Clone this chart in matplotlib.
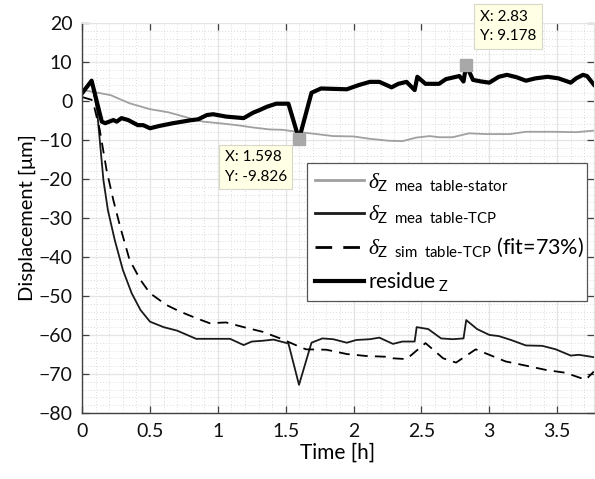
import matplotlib
matplotlib.use("Agg")
import matplotlib.pyplot as plt
from matplotlib.ticker import MultipleLocator

plt.rcParams['font.family'] = ['Lato', 'DejaVu Sans']
plt.rcParams['mathtext.fontset'] = 'custom'
plt.rcParams['mathtext.rm'] = 'Lato'
plt.rcParams['mathtext.it'] = 'Liberation Serif:italic'

# time [h] / displacement [um]
stator_t = [0, 0.07, 0.21, 0.35, 0.5, 0.635, 0.77, 0.89, 1.01, 1.14, 1.26, 1.38, 1.48, 1.58,
            1.73, 1.85, 2.0, 2.12, 2.26, 2.36, 2.46, 2.56, 2.63, 2.73, 2.85, 2.98, 3.15, 3.27,
            3.47, 3.64, 3.77]
stator_v = [2.8, 2.4, 1.5, -0.6, -2.1, -2.9, -4.2, -5.3, -5.7, -6.2, -6.8, -7.3, -7.4, -7.9,
            -8.5, -9.0, -9.1, -9.7, -10.2, -10.3, -9.4, -9.0, -9.3, -9.3, -8.3, -8.5, -8.5, -7.9,
            -7.9, -8.0, -7.6]

tcp_t = [0, 0.07, 0.11, 0.13, 0.157, 0.19, 0.24, 0.30, 0.365, 0.43, 0.50, 0.60, 0.70, 0.84,
         0.965, 1.09, 1.19, 1.25, 1.33, 1.41, 1.52, 1.598, 1.69, 1.77, 1.85, 1.95, 2.02, 2.12,
         2.19, 2.29, 2.36, 2.45, 2.465, 2.55, 2.645, 2.73, 2.81, 2.83, 2.91, 3.0, 3.07, 3.16,
         3.27, 3.39, 3.49, 3.60, 3.66, 3.77]
tcp_v = [2.5, 5.0, -2.3, -10, -20.3, -28, -35.6, -43.3, -49.3, -53.6, -56.6, -58, -58.9, -61,
         -61, -61, -62.6, -61.7, -61.5, -61.2, -62.2, -72.8, -62, -60.9, -61.1, -62, -61.3, -61.1,
         -60.7, -62.3, -61.7, -61.7, -58, -58.5, -60.9, -61.1, -60.9, -56.2, -58.5, -60, -60.3, -61.3,
         -62.7, -62.8, -63.7, -65.3, -65.1, -65.7]

sim_t = [0, 0.07, 0.083, 0.13, 0.18, 0.23, 0.28, 0.35, 0.43, 0.50, 0.62, 0.72, 0.84, 0.94,
         1.06, 1.19, 1.33, 1.46, 1.60, 1.65, 1.80, 1.95, 2.09, 2.24, 2.29, 2.39, 2.53, 2.66,
         2.755, 2.90, 3.0, 3.12, 3.245, 3.42, 3.56, 3.71, 3.77]
sim_v = [1.0, 0.3, -0.6, -7.4, -17.7, -25.4, -32.2, -40.8, -45.9, -49.3, -52.3, -54, -55.7, -57,
         -56.8, -58, -59.2, -60.9, -63, -63.7, -63.8, -64.9, -65.4, -65.6, -66, -66.2, -62.1, -66,
         -67.1, -63.7, -65.1, -66.8, -67.7, -69, -69.7, -71.5, -69.4]

res_t = [0, 0.07, 0.145, 0.17, 0.23, 0.255, 0.29, 0.34, 0.41, 0.45, 0.50, 0.57, 0.67, 0.79,
         0.855, 0.92, 0.965, 1.06, 1.19, 1.26, 1.31, 1.36, 1.43, 1.52, 1.598, 1.69, 1.76, 1.95,
         2.04, 2.12, 2.19, 2.28, 2.33, 2.39, 2.45, 2.47, 2.53, 2.63, 2.68, 2.78, 2.81, 2.83,
         2.88, 2.94, 3.0, 3.07, 3.13, 3.20, 3.27, 3.34, 3.43, 3.51, 3.60, 3.64, 3.69, 3.72, 3.77]
res_v = [2.0, 5.2, -5.3, -5.7, -4.9, -5.3, -4.4, -4.9, -6.2, -6.2, -7.0, -6.4, -5.7, -5.0,
         -4.7, -3.6, -3.4, -4.0, -4.4, -3.0, -2.3, -1.5, -0.7, -0.7, -9.826, 2.1, 3.2, 3.0,
         4.1, 4.9, 4.9, 3.5, 4.4, 4.9, 2.8, 6.2, 4.4, 4.4, 5.6, 6.4, 5.0, 9.178,
         5.4, 5.0, 4.7, 6.2, 6.7, 6.1, 5.2, 5.8, 6.2, 5.8, 4.7, 5.8, 6.7, 6.4, 4.2]

tips_t = [1.598, 2.83]
tips_v = [-9.826, 9.178]

fig = plt.figure(figsize=(5.95, 4.79), dpi=100)
ax = fig.add_axes([0.138, 0.138, 0.860, 0.814])

ax.plot(stator_t, stator_v, color='#a0a0a0', lw=1.3,
        label=r'$\delta_{\mathrm{Z\ \ mea\ \ table\text{-}stator}}$')
ax.plot(tcp_t, tcp_v, color='#1a1a1a', lw=1.3,
        label=r'$\delta_{\mathrm{Z\ \ mea\ \ table\text{-}TCP}}$')
ax.plot(sim_t, sim_v, color='black', lw=1.3, ls=(0, (6, 4)),
        label=r'$\delta_{\mathrm{Z\ \ sim\ \ table\text{-}TCP}}$ (fit=73%)')
ax.plot(res_t, res_v, color='black', lw=3.0, label=r'residue$_{\mathrm{\ Z}}$')

ax.plot(tips_t, tips_v, ls='none', marker='s', ms=8, color='#a8a8a8', zorder=5, clip_on=False)

ax.set_xlim(0, 3.77)
ax.set_ylim(-80, 20)
ax.xaxis.set_major_locator(MultipleLocator(0.5))
ax.xaxis.set_minor_locator(MultipleLocator(0.1))
ax.yaxis.set_major_locator(MultipleLocator(10))
ax.yaxis.set_minor_locator(MultipleLocator(2))
ax.xaxis.set_major_formatter(plt.FuncFormatter(lambda v, p: '%g' % v))

ax.grid(which='major', color='#e4e4e4', lw=0.9)
ax.grid(which='minor', color='#d0d0d0', lw=0.6, ls=(0, (1, 2.5)))
ax.set_axisbelow(True)

ax.tick_params(which='major', direction='in', length=5, width=0.9, color='#404040',
               top=True, right=True, labelsize=14, pad=7, labelcolor='#111111')
ax.tick_params(which='minor', length=0)
for s in ['left', 'bottom']:
    ax.spines[s].set_color('#404040')
    ax.spines[s].set_linewidth(1.0)
for s in ['top', 'right']:
    ax.spines[s].set_color('#e4e4e4')

ax.set_xlabel('Time [h]', fontsize=15, labelpad=2)
ax.set_ylabel('Displacement [μm]', fontsize=14.5, labelpad=2)

leg = ax.legend(loc='upper left', bbox_to_anchor=(0.44, 0.641, 0.546, 0.0), mode='expand',
                fontsize=15.5, handlelength=2.3, handletextpad=0.15, labelspacing=0.5,
                borderpad=0.35, fancybox=False, framealpha=1, borderaxespad=0)
leg.get_frame().set_edgecolor('#555555')
leg.get_frame().set_linewidth(0.9)
leg.get_texts()[3].set_fontsize(15)
for h in leg.get_lines():
    h.set_linewidth(2.0 if h.get_linewidth() < 2 else 3.0)

tip_box = dict(boxstyle='square,pad=0.35', fc='#ffffe6', ec='#d8d8c8', lw=0.8)
ax.text(1.05, -12.6, 'X: 1.598\nY: -9.826', fontsize=11, va='top', ha='left',
        linespacing=1.5, bbox=tip_box, zorder=6)
ax.text(2.93, 23.4, 'X: 2.83\nY: 9.178', fontsize=11, va='top', ha='left',
        linespacing=1.5, bbox=tip_box, zorder=6, clip_on=False)

fig.savefig('out.png', dpi=100)
